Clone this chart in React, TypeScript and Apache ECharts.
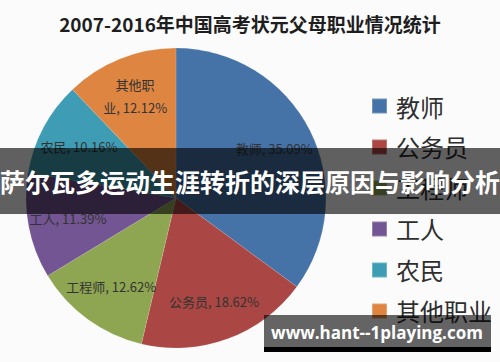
import React, { useEffect, useRef } from "react";
import * as echarts from "echarts";

const titleText = "2007-2016年中国高考状元父母职业情况统计";
const categories = ["教师", "公务员", "工程师", "工人", "农民", "其他职业"];
const percents = [35.09, 18.62, 12.62, 11.39, 10.16, 12.12];
const colors = ["#4572a7", "#aa4643", "#8ea551", "#725592", "#3e9db4", "#de8541"];
const bannerText = "萨尔瓦多运动生涯转折的深层原因与影响分析";
const watermarkText = "www.hant--1playing.com";

const CJK = '"Noto Sans CJK SC", "Noto Sans", sans-serif';

export default function App() {
  const ref = useRef<HTMLDivElement>(null);
  useEffect(() => {
    document.body.style.margin = "0";
    const chart = echarts.init(ref.current!, null, { renderer: "svg" });
    const labelName = (n: string) => (n === "其他职业" ? "其他职\n业" : n);
    chart.setOption({
      animation: false,
      backgroundColor: "#fbfbfc",
      title: {
        text: titleText,
        left: "center",
        top: 9,
        textStyle: { fontSize: 19, fontWeight: "bold", color: "#1e1e1e", fontFamily: CJK },
      },
      legend: {
        orient: "vertical",
        left: 366,
        top: 89,
        itemWidth: 15,
        itemHeight: 15,
        itemGap: 17,
        icon: "rect",
        textStyle: { fontSize: 24, color: "#2e2e2e", fontFamily: CJK, padding: [0, 0, 0, 4] },
        data: categories.map((c, i) => ({ name: c, itemStyle: { color: colors[i] } })),
      },
      series: [
        {
          type: "pie",
          center: [176, 198],
          radius: [0, 150],
          startAngle: 90,
          clockwise: true,
          label: { show: false },
          labelLine: { show: false },
          itemStyle: { borderColor: "rgba(255,255,255,0.25)", borderWidth: 0.5 },
          data: categories.map((c, i) => ({ name: c, value: percents[i], itemStyle: { color: colors[i] } })),
        },
        {
          type: "pie",
          center: [176, 198],
          radius: [64, 150],
          startAngle: 90,
          clockwise: true,
          silent: true,
          legendHoverLink: false,
          itemStyle: { color: "rgba(0,0,0,0)" },
          label: {
            show: true,
            position: "inside",
            fontSize: 13,
            lineHeight: 23,
            color: "#333333",
            fontFamily: CJK,
            formatter: (p: any) => `${labelName(p.name)}, ${p.value.toFixed(2)}%`,
          },
          labelLine: { show: false },
          data: categories.map((c, i) => ({ name: c, value: percents[i] })),
        },
      ],
      graphic: [
        {
          type: "rect",
          z: 100,
          shape: { x: 0, y: 148, width: 500, height: 66 },
          style: { fill: "rgba(0,0,0,0.62)" },
        },
        {
          type: "text",
          z: 101,
          x: 250,
          y: 181,
          style: {
            text: bannerText,
            fill: "#ffffff",
            fontSize: 25,
            fontWeight: "bold",
            fontFamily: CJK,
            textAlign: "center",
            textVerticalAlign: "middle",
          },
        },
        {
          type: "rect",
          z: 100,
          shape: { x: 264, y: 315, width: 227, height: 32 },
          style: { fill: "rgba(0,0,0,0.6)" },
        },
        {
          type: "rect",
          z: 100,
          shape: { x: 264, y: 347, width: 227, height: 5 },
          style: { fill: "#000000" },
        },
        {
          type: "text",
          z: 101,
          x: 377,
          y: 332,
          style: {
            text: watermarkText,
            fill: "#ffffff",
            fontSize: 17,
            fontWeight: "bold",
            fontFamily: '"Open Sans", "DejaVu Sans", sans-serif',
            textAlign: "center",
            textVerticalAlign: "middle",
          },
        },
      ],
    });
    return () => chart.dispose();
  }, []);
  return <div ref={ref} style={{ width: 500, height: 362 }} />;
}
